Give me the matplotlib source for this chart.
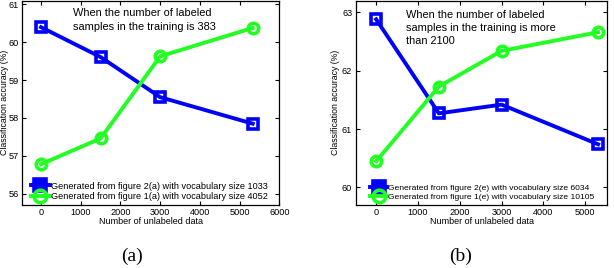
import matplotlib
matplotlib.use("Agg")
import matplotlib.pyplot as plt

plt.rcParams['font.family'] = ['Liberation Sans', 'DejaVu Sans']

# unlabeled data counts
x_a = [0, 1500, 3000, 5330]
x_b = [0, 1500, 3000, 5310]

# panel (a): 383 labeled samples
blue_a = [60.40, 59.61, 58.55, 57.85]
green_a = [56.78, 57.46, 59.63, 60.38]
labels_a = ['Generated from figure 2(a) with vocabulary size 1033',
            'Generated from figure 1(a) with vocabulary size 4052']

# panel (b): more than 2100 labeled samples
blue_b = [62.88, 61.27, 61.42, 60.74]
green_b = [60.45, 61.73, 62.34, 62.66]
labels_b = ['Generated from figure 2(e) with vocabulary size 6034',
            'Generated from figure 1(e) with vocabulary size 10105']

note_a = 'When the number of labeled\nsamples in the training is 383'
note_b = 'When the number of labeled\nsamples in the training is more\nthan 2100'

W, H = 614, 268
fig = plt.figure(figsize=(W / 100, H / 100), dpi=100)

ax1 = fig.add_axes([22 / W, 1 - 205 / H, (279.3 - 22) / W, (205 - 0.7) / H])
ax2 = fig.add_axes([355.7 / W, 1 - 205 / H, (607.3 - 355.7) / W, (205 - 0.7) / H])


def panel(ax, x, blue, green, labels, note, xlim, ylim, xticks, yticks,
          note_xy, leg_xy, leg_fs, ylab_x):
    ax.plot(x, blue, color='#0000ff', lw=2.8, marker='s', ms=7.5, mfc='none',
            mew=2.6, label=labels[0])
    ax.plot(x, green, color='#22ff22', lw=2.8, marker='o', ms=7.5, mfc='none',
            mew=2.6, label=labels[1])
    ax.set_xlim(*xlim)
    ax.set_ylim(*ylim)
    ax.set_xticks(xticks)
    ax.set_yticks(yticks)
    ax.tick_params(direction='in', length=3, width=0.8, labelsize=6.6,
                   top=True, right=True, pad=2.5)
    for s in ax.spines.values():
        s.set_linewidth(0.9)
    ax.set_xlabel('Number of unlabeled data', fontsize=6.5, labelpad=0)
    ax.set_ylabel('Classification accuracy (%)', fontsize=6.3)
    ax.yaxis.set_label_coords(ylab_x, 0.5)
    ax.text(note_xy[0], note_xy[1], note, transform=ax.transAxes, fontsize=7.9,
            va='top', ha='left', linespacing=1.38)
    leg = ax.legend(loc='lower left', bbox_to_anchor=leg_xy, frameon=False,
                    fontsize=leg_fs, handlelength=2.0, handletextpad=0.1,
                    borderaxespad=0, borderpad=0, labelspacing=0.15,
                    markerscale=1.2)
    # legend markers look filled in the original
    leg.legend_handles[0].set_markerfacecolor('#0000ff')


panel(ax1, x_a, blue_a, green_a, labels_a, note_a, (-480, 6000), (55.7, 61.1),
      range(0, 6001, 1000), range(56, 62), (0.198, 0.962), (0.036, 0.02),
      6.6, -0.049)
panel(ax2, x_b, blue_b, green_b, labels_b, note_b, (-490, 5530), (59.7, 63.2),
      range(0, 5001, 1000), range(60, 64), (0.199, 0.955), (0.057, 0.02),
      6.1, -0.062)

fig.text(131.7 / W, 1 - 256 / H, '(a)', family='Liberation Serif', fontsize=14,
         ha='center', va='center')
fig.text(460.7 / W, 1 - 256 / H, '(b)', family='Liberation Serif', fontsize=14,
         ha='center', va='center')

fig.savefig('out.png', dpi=100)
